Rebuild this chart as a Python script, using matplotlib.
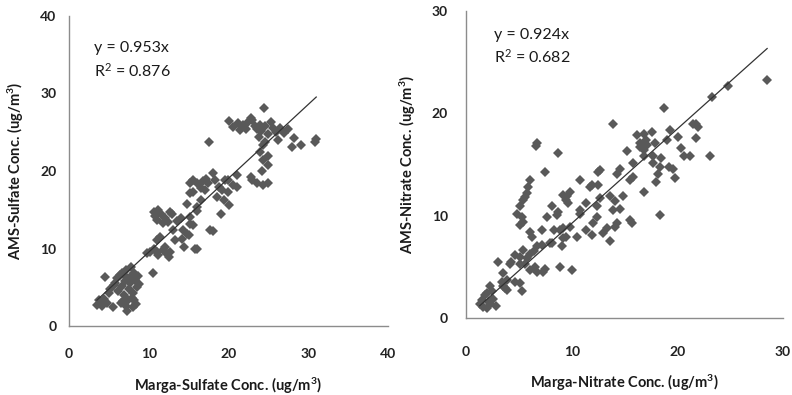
import matplotlib
matplotlib.use("Agg")
import matplotlib.pyplot as plt
import numpy as np

plt.rcParams['font.family'] = ['Lato', 'DejaVu Sans']
plt.rcParams['mathtext.fontset'] = 'custom'
plt.rcParams['mathtext.rm'] = 'Lato'
plt.rcParams['mathtext.it'] = 'Lato:italic'
plt.rcParams['mathtext.bf'] = 'Lato:bold'

# ---- Sulfate panel data (Marga x, AMS y) ----
sulfate_marga = [
    3.5, 3.7, 3.9, 4.2, 4.4, 4.5, 4.8, 5.0, 5.2, 5.5,
    5.6, 5.8, 6.0, 6.2, 6.4, 6.6, 6.7, 6.8, 6.9, 7.0,
    7.1, 7.2, 7.3, 7.4, 7.5, 7.6, 7.7, 7.8, 7.9, 8.0,
    8.1, 8.2, 8.3, 8.4, 8.5, 8.6, 8.8, 8.0, 6.5, 7.0,
    9.8, 10.2, 10.5, 10.6, 11.0, 11.2, 11.0, 11.4, 11.8, 12.1,
    12.3, 12.5, 12.7, 10.6, 10.8, 11.0, 11.2, 11.5, 11.8, 12.0,
    12.4, 12.7, 12.9, 13.1, 13.3, 13.6, 14.0, 14.3, 14.2, 14.4,
    14.8, 15.0, 15.2, 15.2, 15.6, 15.8, 16.1, 14.8, 15.2, 15.6,
    15.2, 15.6, 16.1, 16.1, 16.1, 16.5, 16.5, 16.8, 17.2, 17.4, 17.0,
    17.7, 18.0, 17.5, 18.0, 18.3, 18.6, 18.8, 19.0, 19.2, 19.4,
    19.5, 19.9, 19.9, 20.0, 20.1, 20.6, 20.6, 21.1, 21.1, 21.2,
    21.5, 21.8, 22.2, 22.4, 22.8, 22.8, 23.0, 23.0, 23.3, 23.6,
    23.6, 23.9, 24.1, 24.4, 24.3, 24.0, 24.3, 24.9, 24.9, 24.3,
    25.0, 24.6, 25.0, 25.3, 25.6, 26.0, 26.2, 26.5, 26.9, 27.5,
    28.0, 28.2, 29.1, 30.9, 31.0, 24.6, 24.2, 23.8,
]
sulfate_ams = [
    2.7, 3.3, 3.0, 2.6, 3.5, 6.3, 3.0, 4.2, 4.8, 2.4,
    5.3, 5.6, 6.2, 4.5, 6.6, 5.2, 6.9, 3.2, 4.0, 5.8,
    2.6, 7.2, 2.0, 3.3, 4.8, 6.3, 5.5, 7.6, 3.6, 4.3,
    3.3, 6.8, 5.9, 2.8, 5.0, 6.4, 5.4, 2.4, 3.0, 6.5,
    9.4, 9.6, 6.9, 9.9, 9.5, 9.1, 11.1, 11.5, 9.8, 10.2,
    9.3, 8.9, 9.6, 14.7, 14.2, 13.7, 15.0, 14.5, 13.3, 14.0,
    13.4, 14.7, 14.5, 12.4, 11.1, 13.6, 13.9, 12.4, 11.2, 10.2,
    11.9, 11.7, 13.2, 14.1, 13.0, 10.0, 10.0, 15.8, 17.1, 17.3,
    18.4, 18.8, 18.4, 15.3, 14.9, 16.2, 17.8, 18.7, 19.0, 18.5, 17.5,
    12.4, 12.2, 23.8, 19.7, 18.8, 16.6, 18.0, 14.5, 17.6, 16.2,
    18.9, 17.3, 18.8, 15.6, 26.5, 25.7, 18.2, 19.5, 17.9, 26.2,
    25.3, 26.0, 25.4, 26.3, 26.8, 19.2, 18.9, 26.6, 25.8, 25.4,
    18.4, 26.0, 25.2, 28.1, 23.3, 22.4, 21.4, 22.0, 20.8, 18.2,
    18.5, 25.8, 24.8, 26.3, 25.5, 25.0, 24.0, 25.6, 24.9, 25.4,
    23.1, 24.2, 23.3, 23.7, 24.1, 23.8, 20.0, 24.4,
]
sulfate_slope = 0.953
sulfate_r2 = 0.876

# ---- Nitrate panel data (Marga x, AMS y) ----
nitrate_marga = [
    1.3, 1.5, 1.6, 1.8, 2.0, 2.0, 2.2, 2.3, 2.3, 2.5,
    2.6, 2.8, 3.06, 3.4, 3.5, 3.5, 3.7, 3.9, 3.9, 4.2,
    4.3, 4.6, 4.6, 5.1, 5.1, 5.1, 5.3, 5.4, 5.6, 5.8,
    6.06, 6.06, 6.4, 6.5, 6.7, 6.7, 7.2, 7.3, 7.5, 7.95,
    8.1, 8.9, 10.0,
    4.8, 5.1, 5.11, 5.27, 5.43, 5.43, 5.6, 5.75, 5.9, 6.06,
    6.06, 6.2, 6.7, 6.6, 7.17, 7.5, 7.64, 8.11, 8.59, 8.7,
    8.74, 8.3, 8.9, 9.2, 9.2, 9.5, 9.1, 9.2, 9.5, 9.54,
    9.66, 9.8, 9.8, 10.5, 10.8, 10.8, 10.8, 11.4, 11.4, 11.7,
    11.9, 11.9, 12.0, 12.4, 12.4, 12.5, 12.5, 12.7, 12.7, 13.0,
    13.3, 13.6, 13.6, 13.95, 13.95, 14.1, 14.1, 14.3, 14.3, 14.6,
    14.6, 14.9, 15.2, 15.5, 15.5, 15.7, 15.8, 15.8, 16.2, 16.5,
    16.5, 16.8, 16.8, 16.8, 16.8, 17.0, 17.1, 17.6, 17.7, 17.7,
    17.9, 18.0, 18.2, 18.4, 18.4, 18.5, 18.7, 19.0, 19.2, 19.3,
    19.6, 19.8, 20.1, 20.3, 20.6, 21.2, 21.5, 21.8, 21.8, 22.0,
    23.1, 23.3, 24.8, 28.5,
]
nitrate_ams = [
    1.4, 1.8, 1.1, 2.2, 0.95, 2.4, 1.6, 3.1, 1.4, 2.6,
    1.9, 1.2, 5.5, 3.5, 4.4, 3.1, 2.9, 3.7, 2.7, 5.3,
    5.5, 3.5, 6.2, 6.0, 5.3, 3.4, 2.6, 6.6, 5.3, 5.9,
    6.3, 4.7, 6.5, 5.0, 4.5, 7.0, 7.1, 4.5, 4.8, 7.3,
    7.3, 5.0, 4.7,
    10.2, 10.9, 9.1, 9.9, 9.4, 11.5, 11.8, 12.2, 12.8, 13.5,
    8.4, 7.9, 17.1, 16.8, 8.6, 14.3, 9.9, 10.9, 10.1, 10.4,
    16.1, 8.6, 8.6, 8.8, 7.8, 7.9, 7.0, 12.0, 11.5, 11.9,
    11.2, 12.3, 8.9, 7.9, 10.2, 10.6, 13.5, 11.2, 8.6, 12.8,
    8.1, 13.0, 9.3, 9.9, 10.9, 13.0, 14.3, 11.7, 14.5, 8.3,
    8.8, 11.9, 7.5, 10.6, 19.0, 11.4, 8.9, 14.1, 9.3, 14.6,
    10.7, 11.9, 16.3, 13.5, 9.6, 9.3, 15.1, 13.8, 17.9, 17.1,
    16.7, 18.0, 16.4, 15.8, 12.3, 17.4, 16.9, 18.2, 15.8, 15.1,
    17.1, 13.3, 14.1, 14.8, 10.1, 15.6, 20.5, 17.4, 14.8, 18.4,
    14.6, 13.7, 17.7, 16.6, 15.8, 15.8, 19.0, 19.0, 17.6, 18.7,
    15.8, 21.6, 22.7, 23.3,
]
nitrate_slope = 0.924
nitrate_r2 = 0.682

sulfate_ticks = [0, 10, 20, 30, 40]
nitrate_ticks = [0, 10, 20, 30]

marker_color = '#595959'
spine_color = '#8c8c8c'

fig = plt.figure(figsize=(7.92, 3.95), dpi=100)
W, H = 792.0, 395.0

def axes_px(x0, x1, y0, y1):
    return fig.add_axes([x0 / W, 1 - y0 / H, (x1 - x0) / W, (y0 - y1) / H])

axL = axes_px(69, 388, 326, 16)
axR = axes_px(466, 783, 318, 11)

SUP3 = r"$^{\mathbf{3}}$"

def style(ax, ticks, xlabel, ylabel, ypad, xpad):
    ax.set_xlim(ticks[0], ticks[-1])
    ax.set_ylim(ticks[0], ticks[-1])
    ax.set_xticks(ticks)
    ax.set_yticks(ticks)
    for s in ['top', 'right']:
        ax.spines[s].set_visible(False)
    for s in ['left', 'bottom']:
        ax.spines[s].set_color(spine_color)
        ax.spines[s].set_linewidth(1.0)
    ax.tick_params(axis='both', length=0, labelsize=10, labelcolor='#222222')
    ax.tick_params(axis='y', pad=ypad)
    ax.tick_params(axis='x', pad=xpad)
    for lab in ax.get_xticklabels() + ax.get_yticklabels():
        lab.set_fontweight('bold')
    ax.set_xlabel(xlabel, fontsize=10.5, fontweight='bold', color='#1a1a1a', labelpad=11)
    ax.set_ylabel(ylabel, fontsize=10.5, fontweight='bold', color='#1a1a1a', labelpad=10)

def panel(ax, xs, ys, slope, r2, tx, ty1, ty2):
    xs = np.asarray(xs)
    ys = np.asarray(ys)
    ax.plot(xs, ys, linestyle='none', marker='D', ms=5.2, color=marker_color,
            markeredgewidth=0, zorder=2)
    xl = np.array([xs.min(), xs.max()])
    ax.plot(xl, slope * xl, color='#333333', lw=0.9, zorder=3)
    ax.text(tx, ty1, f"y = {slope:.3f}x", transform=ax.transAxes, fontsize=11.5,
            va='center', ha='left', color='#1a1a1a')
    ax.text(tx, ty2, "R$^{2}$" + f" = {r2:.3f}", transform=ax.transAxes, fontsize=11.5,
            va='center', ha='left', color='#1a1a1a')

style(axL, sulfate_ticks, "Marga-Sulfate Conc. (ug/m" + SUP3 + ")",
      "AMS-Sulfate Conc. (ug/m" + SUP3 + ")", 9, 16)
style(axR, nitrate_ticks, "Marga-Nitrate Conc. (ug/m" + SUP3 + ")",
      "AMS-Nitrate Conc. (ug/m" + SUP3 + ")", 13, 20)
panel(axL, sulfate_marga, sulfate_ams, sulfate_slope, sulfate_r2, 0.078, 0.897, 0.823)
panel(axR, nitrate_marga, nitrate_ams, nitrate_slope, nitrate_r2, 0.088, 0.922, 0.85)

fig.savefig("out.png", dpi=100)
